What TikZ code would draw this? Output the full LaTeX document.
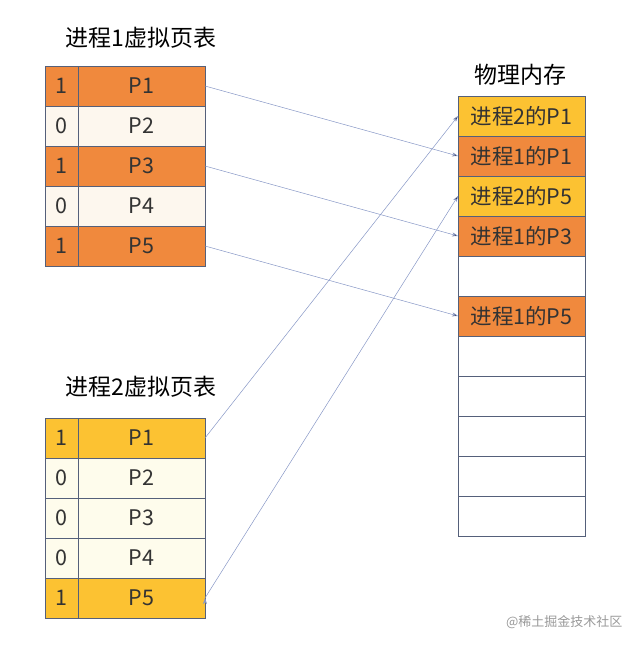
\documentclass[tikz,border=0pt]{standalone}
\usepackage{fontspec}
\setmainfont{Noto Sans CJK SC}
\usetikzlibrary{positioning,arrows.meta}
\definecolor{pgorange}{HTML}{F0893D}
\definecolor{pgcream}{HTML}{FDF7EE}
\definecolor{pgyellow}{HTML}{FCC232}
\definecolor{pgpale}{HTML}{FEFCEC}
\definecolor{pgline}{HTML}{55607A}
\definecolor{pgarrow}{HTML}{8797C6}

\begin{document}
\begin{tikzpicture}[x=1pt,y=-1pt,
    cell/.style={draw=pgline, line width=0.9pt, inner sep=0pt, outer sep=0pt, minimum height=40pt, text=black!80, font=\fontsize{21.5}{21.5}\selectfont},
    flag/.style={cell, minimum width=33pt},
    page/.style={cell, minimum width=127pt},
    frame/.style={cell, minimum width=127pt},
    title/.style={font=\fontsize{23}{23}\selectfont},
    map/.style={draw=pgarrow, line width=0.5pt, -{Stealth[length=6pt,width=4pt]}},
    node distance=0pt
    ]
    \useasboundingbox (0,0) rectangle (642,647);

    % page table of process 1
    \node[title] (t1) at (141,38) {进程1虚拟页表};
    \foreach \f/\c [count=\i] in {1/pgorange,0/pgcream,1/pgorange,0/pgcream,1/pgorange} {
        \ifnum \i = 1
        \node[flag, fill=\c, anchor=north west] (a\i) at (45,66) {\f};
        \else
        \pgfmathtruncatemacro\prev{\i-1}
        \node[flag, fill=\c, below=of a\prev] (a\i) {\f};
        \fi
        \node[page, fill=\c, right=of a\i] (ap\i) {P\i};
    }

    % page table of process 2
    \node[title] (t2) at (141,387) {进程2虚拟页表};
    \foreach \f/\c [count=\i] in {1/pgyellow,0/pgpale,0/pgpale,0/pgpale,1/pgyellow} {
        \ifnum \i = 1
        \node[flag, fill=\c, anchor=north west] (b\i) at (45,418) {\f};
        \else
        \pgfmathtruncatemacro\prev{\i-1}
        \node[flag, fill=\c, below=of b\prev] (b\i) {\f};
        \fi
        \node[page, fill=\c, right=of b\i] (bp\i) {P\i};
    }

    % physical memory
    \node[title] (tm) at (520,75) {物理内存};
    \foreach \t/\c [count=\i] in {进程2的P1/pgyellow, 进程1的P1/pgorange, 进程2的P5/pgyellow,
        进程1的P3/pgorange, /white, 进程1的P5/pgorange, /white, /white, /white, /white, /white} {
        \ifnum \i = 1
        \node[frame, fill=\c, anchor=north west] (m\i) at (458,96) {\t};
        \else
        \pgfmathtruncatemacro\prev{\i-1}
        \node[frame, fill=\c, below=of m\prev] (m\i) {\t};
        \fi
    }

    % mappings
    \path[map]
    (ap1.east) edge (m2.west)
    (ap3.east) edge (m4.west)
    (ap5.east) edge (m6.west)
    (bp1.east) edge (m1.west)
    (bp5.east) edge (m3.west);

    \node[text=black!40, font=\fontsize{13}{13}\selectfont, anchor=east] (wm) at (626,622) {@稀土掘金技术社区};
\end{tikzpicture}
\end{document}
